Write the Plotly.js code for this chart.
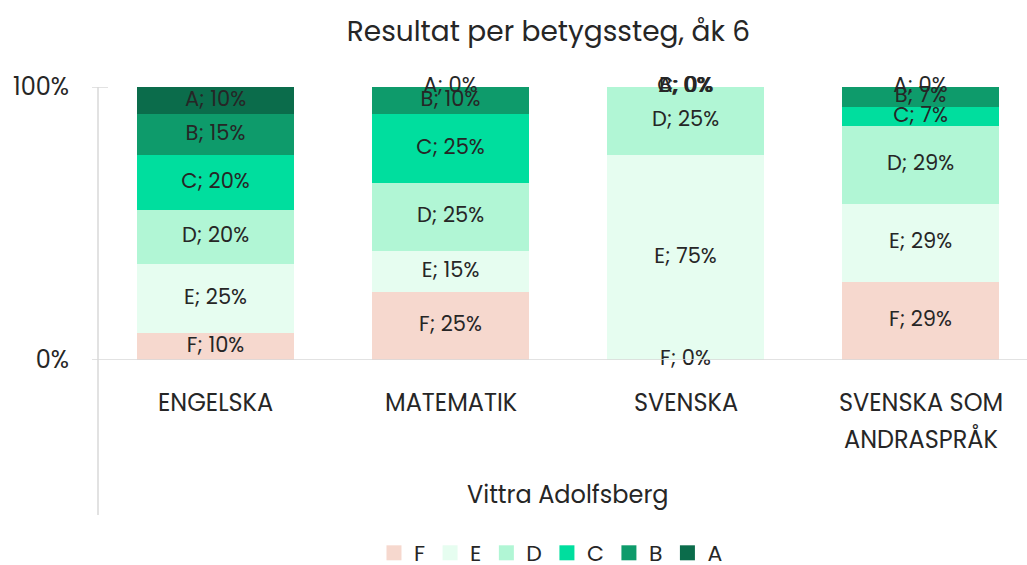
<!DOCTYPE html>
<html>
<head>
<meta charset="utf-8">
<script src="https://cdn.plot.ly/plotly-3.0.1.min.js"></script>
<style>
html,body{margin:0;padding:0;background:#fff;}
#chart{width:1027px;height:565px;}
</style>
</head>
<body>
<div id="chart"></div>
<script>
// ---- data ----
const categories = ['ENGELSKA', 'MATEMATIK', 'SVENSKA', 'SVENSKA SOM ANDRASPRÅK'];
const categoryLabels = [['ENGELSKA'], ['MATEMATIK'], ['SVENSKA'], ['SVENSKA SOM', 'ANDRASPRÅK']];
const groupLabel = 'Vittra Adolfsberg';
const grades = ['F', 'E', 'D', 'C', 'B', 'A'];
const valF = [10, 25, 0, 28.57];
const valE = [25, 15, 75, 28.57];
const valD = [20, 25, 25, 28.57];
const valC = [20, 25, 0, 7.14];
const valB = [15, 10, 0, 7.14];
const valA = [10, 0, 0, 0];
const yTickVals = [0, 100];
const yTickText = ['0%', '100%'];
const titleText = 'Resultat per betygssteg, åk 6';

// ---- styling ----
const FONT = 'Poppins, Inter, "Open Sans", sans-serif';
const TXT = '#262626';
const colors = {F: '#f6d8ce', E: '#e6fdf0', D: '#b1f6d5', C: '#00de9e', B: '#0e9b6b', A: '#0b6c4b'};
const series = {F: valF, E: valE, D: valD, C: valC, B: valB, A: valA};
const xIdx = categories.map((c, i) => i);

const traces = [];
grades.forEach(g => {
  traces.push({
    type: 'bar', name: g, x: xIdx, y: series[g],
    marker: {color: colors[g], line: {width: 0}},
    width: 0.668, hoverinfo: 'skip', showlegend: false
  });
});
// legend entries with larger square swatches
grades.forEach(g => {
  traces.push({
    type: 'scatter', mode: 'markers', name: g, x: [null], y: [null],
    marker: {symbol: 'square', size: 15, color: colors[g]},
    hoverinfo: 'skip', showlegend: true
  });
});

// segment labels via text scatter
const lx = [], ly = [], lt = [];
categories.forEach((c, i) => {
  let base = 0;
  grades.forEach(g => {
    const v = series[g][i];
    lx.push(i); ly.push(base + v / 2);
    lt.push(g + '; ' + Math.round(v) + '%');
    base += v;
  });
});
traces.push({
  type: 'scatter', mode: 'text', x: lx, y: ly, text: lt,
  textposition: 'middle center',
  textfont: {family: FONT, size: 21, color: TXT},
  showlegend: false, hoverinfo: 'skip', cliponaxis: false
});

const annotations = [];
categoryLabels.forEach((lines, i) => {
  lines.forEach((t, k) => {
    annotations.push({
      xref: 'x', yref: 'paper', x: i, y: -0.157 - k * 0.135,
      text: t, showarrow: false, xanchor: 'center', yanchor: 'middle',
      font: {family: FONT, size: 24, color: TXT}
    });
  });
});
annotations.push({
  xref: 'x', yref: 'paper', x: (categories.length - 1) / 2, y: -0.491,
  text: groupLabel, showarrow: false, xanchor: 'center', yanchor: 'middle',
  font: {family: FONT, size: 24, color: TXT}
});

const lineCol = '#d9d9d9';
const shapes = [
  {type: 'line', xref: 'paper', yref: 'paper', x0: 0, x1: 0, y0: 1, y1: -0.568, line: {color: lineCol, width: 1.5}},
  {type: 'line', xref: 'paper', yref: 'y', x0: -0.0065, x1: 1, y0: 0, y1: 0, line: {color: lineCol, width: 1.5}},
  {type: 'line', xref: 'paper', yref: 'y', x0: -0.0065, x1: 0.0108, y0: 100, y1: 100, line: {color: lineCol, width: 1.5}}
];

const layout = {
  width: 1027, height: 565,
  margin: {l: 98, r: 0, t: 87, b: 205, pad: 0, autoexpand: false},
  paper_bgcolor: '#fff', plot_bgcolor: '#fff',
  font: {family: FONT, color: TXT},
  title: {text: titleText, x: 0.534, xanchor: 'center', y: 1 - 31 / 565, yanchor: 'middle', yref: 'container',
    font: {family: FONT, size: 28, color: TXT}},
  barmode: 'stack', bargap: 0,
  showlegend: true,
  legend: {orientation: 'h', x: 0.4876, xanchor: 'center', yref: 'container', y: 1 - 553 / 565, yanchor: 'middle',
    font: {family: FONT, size: 22, color: TXT}, traceorder: 'normal', itemclick: false, bgcolor: 'rgba(0,0,0,0)'},
  xaxis: {range: [-0.5, 3.453], showticklabels: false, showgrid: false, zeroline: false, showline: false, ticks: '', fixedrange: true},
  yaxis: {range: [0, 100], tickvals: yTickVals, ticktext: yTickText, showgrid: false, zeroline: false, showline: false,
    ticks: '', ticklabelstandoff: 28, tickfont: {family: FONT, size: 24, color: TXT}, fixedrange: true},
  shapes: shapes, annotations: annotations
};

Plotly.newPlot('chart', traces, layout, {displayModeBar: false, staticPlot: true});
</script>
</body>
</html>
